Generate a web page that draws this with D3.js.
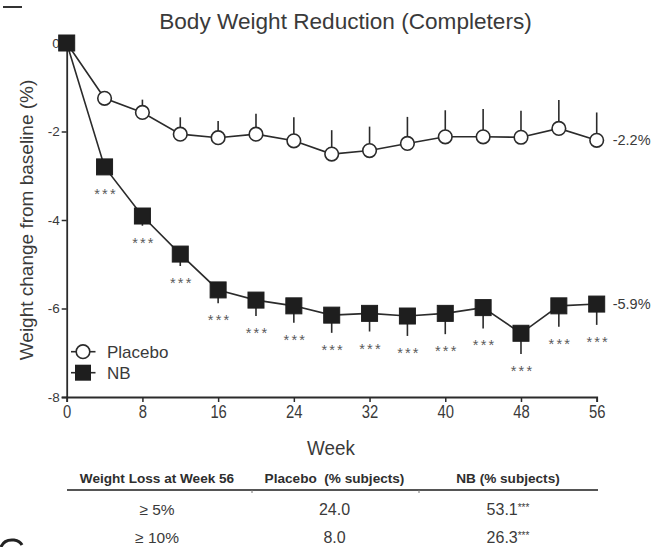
<!DOCTYPE html>
<html>
<head>
<meta charset="utf-8">
<script src="https://cdn.jsdelivr.net/npm/d3@7"></script>
<style>
  html, body { margin: 0; padding: 0; background: #fff; }
  svg { display: block; }
  text { font-family: "Liberation Sans", Arial, sans-serif; }
</style>
</head>
<body>
<script>
// Study weeks at which body weight was measured
const weeks = [0, 4, 8, 12, 16, 20, 24, 28, 32, 36, 40, 44, 48, 52, 56];

// Mean change from baseline (%) and SEM, placebo completers
const placeboMean = [0, -1.25, -1.57, -2.06, -2.14, -2.06, -2.21, -2.51, -2.43, -2.27, -2.12, -2.12, -2.13, -1.93, -2.2];
const placeboSem  = [0, 0.12, 0.29, 0.38, 0.38, 0.46, 0.53, 0.54, 0.54, 0.60, 0.60, 0.63, 0.60, 0.64, 0.63];

// Mean change from baseline (%) and SEM, NB completers
const nbMean = [0, -2.8, -3.91, -4.77, -5.58, -5.81, -5.94, -6.15, -6.11, -6.17, -6.11, -5.98, -6.56, -5.94, -5.9];
const nbSem  = [0, 0.12, 0.22, 0.27, 0.30, 0.36, 0.38, 0.40, 0.41, 0.45, 0.47, 0.47, 0.47, 0.47, 0.47];

// Significance flags vs placebo
const nbSignif = ["", "***", "***", "***", "***", "***", "***", "***", "***", "***", "***", "***", "***", "***", "***"];

const xTicks = [0, 8, 16, 24, 32, 40, 48, 56];
const yTicks = [0, -2, -4, -6, -8];

const endLabels = ["-2.2%", "-5.9%"];

// Responder table
const tableHeader = ["Weight Loss at Week 56", "Placebo  (% subjects)", "NB (% subjects)"];
const thresholds = ["\u2265 5%", "\u2265 10%"];
const placeboPct = ["24.0", "8.0"];
const nbPct = ["53.1", "26.3"];
const nbPctSignif = ["***", "***"];

const W = 654, H = 547;
const svg = d3.select("body").append("svg").attr("width", W).attr("height", H);

const x = d3.scaleLinear().domain([0, 56]).range([66.7, 596.7]);
const y = d3.scaleLinear().domain([-8, 0]).range([397, 43]);

const ink = "#2b2b2b";
const textInk = "#3a3a3a";
const narrow = 0.78; // horizontal squeeze for the condensed axis lettering

// Title
svg.append("text")
  .attr("x", 345.5).attr("y", 28.5)
  .attr("text-anchor", "middle")
  .attr("font-size", 22.6)
  .attr("fill", textInk)
  .text("Body Weight Reduction (Completers)");

// Axes
const yAxis = d3.axisLeft(y).tickValues(yTicks).tickSize(5).tickPadding(2).tickFormat(d => String(d));
const gy = svg.append("g").attr("transform", `translate(${x(0)},0)`).call(yAxis);
gy.select(".domain").attr("stroke", ink).attr("stroke-width", 1.8);
gy.selectAll(".tick line").attr("stroke", ink).attr("stroke-width", 1.5);
gy.selectAll(".tick text").attr("font-size", 13.5).attr("fill", textInk).attr("font-family", null);

const xAxis = d3.axisBottom(x).tickValues(xTicks).tickSize(5).tickPadding(3);
const gx = svg.append("g").attr("transform", `translate(0,${y(-8)})`).call(xAxis);
gx.select(".domain").attr("stroke", ink).attr("stroke-width", 1.8);
gx.selectAll(".tick line").attr("stroke", ink).attr("stroke-width", 1.5);
gx.selectAll(".tick text")
  .attr("font-size", 19).attr("fill", textInk).attr("font-family", null)
  .attr("transform", `scale(${narrow},1)`);

// Axis titles
svg.append("text")
  .attr("transform", `translate(331,454.5) scale(0.92,1)`)
  .attr("text-anchor", "middle")
  .attr("font-size", 20.5)
  .attr("fill", textInk)
  .text("Week");

svg.append("text")
  .attr("transform", `translate(33,220) rotate(-90)`)
  .attr("text-anchor", "middle")
  .attr("font-size", 19)
  .attr("fill", textInk)
  .text("Weight change from baseline (%)");

const line = d3.line().x((d, i) => x(weeks[i])).y(d => y(d));

// Placebo error bars (upward)
svg.append("g").selectAll("line")
  .data(placeboMean)
  .join("line")
  .attr("x1", (d, i) => x(weeks[i])).attr("x2", (d, i) => x(weeks[i]))
  .attr("y1", d => y(d))
  .attr("y2", (d, i) => y(d + placeboSem[i]))
  .attr("stroke", ink).attr("stroke-width", 1.6);

// NB error bars (downward)
svg.append("g").selectAll("line")
  .data(nbMean)
  .join("line")
  .attr("x1", (d, i) => x(weeks[i])).attr("x2", (d, i) => x(weeks[i]))
  .attr("y1", d => y(d))
  .attr("y2", (d, i) => y(d - nbSem[i]))
  .attr("stroke", ink).attr("stroke-width", 1.6);

// Connecting lines
svg.append("path").datum(placeboMean).attr("d", line)
  .attr("fill", "none").attr("stroke", ink).attr("stroke-width", 1.6);
svg.append("path").datum(nbMean).attr("d", line)
  .attr("fill", "none").attr("stroke", ink).attr("stroke-width", 1.6);

// Placebo markers
svg.append("g").selectAll("circle")
  .data(placeboMean)
  .join("circle")
  .attr("cx", (d, i) => x(weeks[i])).attr("cy", d => y(d))
  .attr("r", 6.8)
  .attr("fill", "#fff").attr("stroke", ink).attr("stroke-width", 1.6);

// NB markers
const sq = 16;
svg.append("g").selectAll("rect")
  .data(nbMean)
  .join("rect")
  .attr("x", (d, i) => x(weeks[i]) - sq / 2).attr("y", d => y(d) - sq / 2)
  .attr("width", sq).attr("height", sq)
  .attr("fill", "#1e1e1e").attr("stroke", "#1e1e1e").attr("stroke-width", 1);

// Significance stars beneath NB points
svg.append("g").selectAll("text")
  .data(nbMean)
  .join("text")
  .attr("x", (d, i) => x(weeks[i]) + 1.5)
  .attr("y", (d, i) => Math.max(y(d - nbSem[i]), y(d) + 10) + 22)
  .attr("text-anchor", "middle")
  .attr("font-size", 14.5)
  .attr("letter-spacing", 2.2)
  .attr("fill", "#5a5a5a")
  .text((d, i) => nbSignif[i]);

// End-of-study labels
const lastIdx = weeks.length - 1;
svg.append("g").selectAll("text")
  .data([placeboMean[lastIdx], nbMean[lastIdx]])
  .join("text")
  .attr("x", x(56) + 16)
  .attr("y", d => y(d) + 5)
  .attr("font-size", 14.5)
  .attr("fill", textInk)
  .text((d, i) => endLabels[i]);

// Legend
const leg = svg.append("g");
const legRows = [{ name: "Placebo", cy: 351.7, kind: "circle" }, { name: "NB", cy: 372.7, kind: "square" }];
legRows.forEach(r => {
  leg.append("line").attr("x1", 71).attr("x2", 95.5).attr("y1", r.cy).attr("y2", r.cy)
    .attr("stroke", ink).attr("stroke-width", 1.6);
  if (r.kind === "circle") {
    leg.append("circle").attr("cx", 83).attr("cy", r.cy).attr("r", 6.8)
      .attr("fill", "#fff").attr("stroke", ink).attr("stroke-width", 1.6);
  } else {
    leg.append("rect").attr("x", 83 - sq / 2).attr("y", r.cy - sq / 2).attr("width", sq).attr("height", sq)
      .attr("fill", "#1e1e1e");
  }
  leg.append("text").attr("x", 107).attr("y", r.cy + 6)
    .attr("font-size", 17).attr("fill", textInk).text(r.name);
});

// Responder table
const colX = [157, 334.5, 508];
const tbl = svg.append("g");
tbl.selectAll("text.head")
  .data(tableHeader)
  .join("text")
  .attr("class", "head")
  .attr("x", (d, i) => colX[i]).attr("y", 483)
  .attr("text-anchor", "middle")
  .attr("font-size", 13.6)
  .attr("font-weight", "bold")
  .attr("fill", "#2e2e2e")
  .attr("xml:space", "preserve")
  .text(d => d);

tbl.append("line").attr("x1", 67).attr("x2", 598).attr("y1", 490).attr("y2", 490)
  .attr("stroke", "#555").attr("stroke-width", 2);
[252, 419].forEach(tx => {
  tbl.append("line").attr("x1", tx).attr("x2", tx).attr("y1", 490).attr("y2", 493)
    .attr("stroke", "#777").attr("stroke-width", 1);
});

const rowY = [515, 543];
thresholds.forEach((t, i) => {
  tbl.append("text").attr("x", colX[0]).attr("y", rowY[i]).attr("text-anchor", "middle")
    .attr("font-size", 15.5).attr("fill", textInk).text(t);
  tbl.append("text").attr("x", colX[1]).attr("y", rowY[i]).attr("text-anchor", "middle")
    .attr("font-size", 16).attr("fill", textInk).text(placeboPct[i]);
  const t3 = tbl.append("text").attr("x", colX[2]).attr("y", rowY[i]).attr("text-anchor", "middle")
    .attr("font-size", 16).attr("fill", textInk);
  t3.append("tspan").text(nbPct[i]);
  t3.append("tspan").attr("font-size", 10).attr("dy", -4).text(nbPctSignif[i]);
});

// Fragments of neighbouring panel marks at the page edges
svg.append("line").attr("x1", 3).attr("x2", 22).attr("y1", 7).attr("y2", 7)
  .attr("stroke", "#333").attr("stroke-width", 2);
svg.append("path").attr("d", "M1,547 Q4,539 14,540 Q20,541 22,545")
  .attr("fill", "none").attr("stroke", "#222").attr("stroke-width", 3);
</script>
</body>
</html>
